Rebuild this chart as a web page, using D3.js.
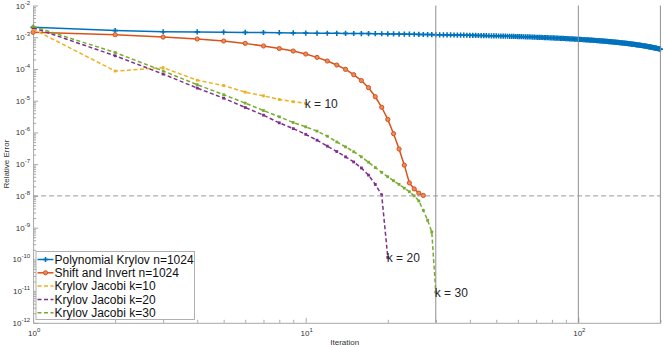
<!DOCTYPE html>
<html><head><meta charset="utf-8">
<script src="https://cdn.jsdelivr.net/npm/d3@7"></script>
<style>body{margin:0;background:#fff}svg{display:block}text{font-family:"Liberation Sans",Arial,sans-serif}</style>
</head><body><svg id="c" width="664" height="347"></svg>
<script>
// ---- data ----
const seriesNames = ["Polynomial Krylov n=1024","Shift and Invert n=1024","Krylov Jacobi k=10","Krylov Jacobi k=20","Krylov Jacobi k=30"];
const seriesColors = ["#0072BD","#D95319","#EDB120","#7E2F8E","#77AC30"];
// Polynomial Krylov relative error, in units of 1e-4, iterations 1..200
const polyKrylovE4 = [20.5,16.2,14.9,14.7,14.4,14.2,14.1,13.9,13.7,13.5,
13.4,13.35,13.3,13.2,13.1,13.05,13.0,12.9,12.85,12.75,
12.7,12.6,12.5,12.45,12.4,12.3,12.2,12.15,12.1,12.0,
11.95,11.9,11.85,11.8,11.75,11.7,11.65,11.6,11.55,11.5,
11.45,11.4,11.35,11.3,11.25,11.2,11.15,11.1,11.05,11.0,
10.95,10.9,10.85,10.8,10.75,10.7,10.65,10.6,10.55,10.5,
10.45,10.4,10.35,10.3,10.25,10.2,10.15,10.1,10.05,10.0,
9.95,9.9,9.85,9.8,9.76,9.71,9.67,9.62,9.57,9.53,
9.48,9.43,9.39,9.34,9.3,9.25,9.2,9.16,9.11,9.06,
9.02,8.97,8.93,8.88,8.83,8.79,8.74,8.69,8.65,8.6,
8.56,8.51,8.47,8.42,8.38,8.34,8.29,8.25,8.2,8.16,
8.12,8.07,8.03,7.98,7.94,7.9,7.85,7.81,7.76,7.72,
7.68,7.63,7.59,7.54,7.5,7.46,7.41,7.37,7.32,7.28,
7.24,7.19,7.15,7.1,7.06,7.02,6.97,6.93,6.88,6.84,
6.8,6.75,6.71,6.66,6.62,6.58,6.53,6.49,6.44,6.4,
6.36,6.31,6.27,6.22,6.18,6.14,6.09,6.05,6.0,5.96,
5.92,5.87,5.83,5.78,5.74,5.7,5.65,5.61,5.56,5.52,
5.48,5.43,5.39,5.34,5.3,5.26,5.21,5.17,5.12,5.08,
5.04,4.99,4.95,4.9,4.86,4.82,4.77,4.73,4.68,4.64,
4.6,4.55,4.51,4.46,4.42,4.38,4.33,4.29,4.24,4.2];
// Shift and Invert, iterations 1..27
const shiftInvert = [1.43e-3,1.2e-3,1.01e-3,8.8e-4,7.6e-4,6.4e-4,5.3e-4,4.4e-4,3.67e-4,2.95e-4,
2.32e-4,1.78e-4,1.33e-4,9.7e-5,6.6e-5,4.3e-5,2.57e-5,1.33e-5,6.2e-6,2.57e-6,
9.1e-7,3.0e-7,9.3e-8,2.57e-8,1.66e-8,1.22e-8,1.03e-8];
// Krylov Jacobi, iterations 1..k
const jacobiK10 = [1.8e-3,8.6e-5,1.1e-4,4.4e-5,3.0e-5,1.86e-5,1.42e-5,1.09e-5,9.3e-6,8.2e-6];
const jacobiK20 = [2.0e-3,2.6e-4,6.9e-5,2.5e-5,1.2e-5,6.1e-6,3.5e-6,2.0e-6,1.32e-6,8.7e-7,
5.7e-7,3.7e-7,2.5e-7,1.7e-7,1.17e-7,7.6e-8,4.5e-8,2.3e-8,1.07e-8,1.15e-10];
const jacobiK30 = [2.2e-3,3.3e-4,8.6e-5,3.2e-5,1.54e-5,8.4e-6,4.9e-6,3.1e-6,2.05e-6,1.5e-6,
1.1e-6,7.6e-7,5.0e-7,3.5e-7,2.46e-7,1.7e-7,1.15e-7,7.8e-8,5.5e-8,4.0e-8,
3.0e-8,2.3e-8,1.75e-8,1.35e-8,1.0e-8,6.9e-9,3.5e-9,1.7e-9,7.3e-10,9.3e-12];
const annotations = ["k = 10","k = 20","k = 30"];
const refVerticals = [30,100,200];
const refHorizontal = 1e-8;
const xTickExps = [0,1,2];
const yTickExps = [-12,-11,-10,-9,-8,-7,-6,-5,-4,-3,-2];
const xLabel = "Iteration", yLabel = "Relative Error";

// ---- chart ----
const svg = d3.select("#c");
const x = d3.scaleLog().domain([1,200]).range([33.1,660.4]);
const y = d3.scaleLog().domain([1e-12,1e-2]).range([322.8,5.5]);
const axisCol = "#a8a8a8", textCol = "#333";

const toPts = arr => arr.map((v,i)=>({i:i+1,v}));
const series = [
  toPts(polyKrylovE4.map(v=>v*1e-4)),
  toPts(shiftInvert), toPts(jacobiK10), toPts(jacobiK20), toPts(jacobiK30)
];

// axes
const yMajor = yTickExps.map(e=>Math.pow(10,e));
const yMinor = [];
yTickExps.slice(0,-1).forEach(e=>{for(let m=2;m<=9;m++) yMinor.push(m*Math.pow(10,e));});
const xMajor = xTickExps.map(e=>Math.pow(10,e));
const xMinor = [2,3,4,5,6,7,8,9,20,30,40,50,60,70,80,90,200];

function styleAxis(g){ g.selectAll("path,line").attr("stroke",axisCol).attr("stroke-width",1); g.selectAll("text").remove(); }
const X0 = x.range()[0], Y0 = y.range()[0];
svg.append("g").attr("transform",`translate(${X0},0)`).call(d3.axisLeft(y).tickValues(yMajor).tickSize(-5).tickSizeOuter(0)).call(styleAxis);
svg.append("g").attr("transform",`translate(${X0},0)`).call(d3.axisLeft(y).tickValues(yMinor).tickSize(-3).tickSizeOuter(0)).call(g=>g.select(".domain").remove()).call(styleAxis);
svg.append("g").attr("transform",`translate(0,${Y0})`).call(d3.axisBottom(x).tickValues(xMajor).tickSize(-5).tickSizeOuter(0)).call(styleAxis);
svg.append("g").attr("transform",`translate(0,${Y0})`).call(d3.axisBottom(x).tickValues(xMinor).tickSize(-3).tickSizeOuter(0)).call(g=>g.select(".domain").remove()).call(styleAxis);

function powLabel(sel, exp){
  sel.append("tspan").attr("font-size",8).text("10");
  sel.append("tspan").attr("font-size",6).attr("dy",-4).text(exp);
}
yTickExps.forEach(e=>{
  const t = svg.append("text").attr("x",X0-3).attr("y",y(Math.pow(10,e))+3).attr("text-anchor","end").attr("fill",textCol);
  powLabel(t, e);
});
xTickExps.forEach(e=>{
  const t = svg.append("text").attr("x",x(Math.pow(10,e))+1).attr("y",Y0+13).attr("text-anchor","middle").attr("fill",textCol);
  powLabel(t, e);
});
svg.append("text").attr("x",(x.range()[0]+x.range()[1])/2-2).attr("y",345).attr("text-anchor","middle").attr("font-size",8).attr("fill",textCol).text(xLabel);
svg.append("text").attr("transform",`translate(9,${(y.range()[0]+y.range()[1])/2}) rotate(-90)`).attr("text-anchor","middle").attr("font-size",8).attr("fill",textCol).text(yLabel);

// series
const line = d3.line().x(d=>x(d.i)).y(d=>y(d.v));
function marker(g, k, col){
  if(k===0){
    g.append("path").attr("d","M-2.6,0H2.6M0,-2.6V2.6").attr("stroke",col).attr("stroke-width",1.6);
  } else if(k===1){
    g.append("circle").attr("r",2.1).attr("fill","#e98a63").attr("stroke",col).attr("stroke-width",1);
  } else {
    g.append("rect").attr("x",-1.4).attr("y",-1.4).attr("width",2.8).attr("height",2.8).attr("fill",col);
  }
}
series.forEach((pts,k)=>{
  const col = seriesColors[k];
  const g = svg.append("g");
  g.append("path").datum(pts).attr("d",line).attr("fill","none").attr("stroke",col)
    .attr("stroke-width",1.5).attr("stroke-dasharray",k>=2?"4,2.5":null);
  g.selectAll("g.m").data(pts).join("g").attr("class","m")
    .attr("transform",d=>`translate(${x(d.i)},${y(d.v)})`).each(function(){marker(d3.select(this),k,col);});
});

// reference lines
refVerticals.forEach(v=>{
  svg.append("line").attr("x1",x(v)).attr("x2",x(v)).attr("y1",y.range()[1]).attr("y2",Y0)
    .attr("stroke","#8f8f8f").attr("stroke-width",1);
});
svg.append("line").attr("x1",X0).attr("x2",x.range()[1]).attr("y1",y(refHorizontal)).attr("y2",y(refHorizontal))
  .attr("stroke","#9a9a9a").attr("stroke-width",1).attr("stroke-dasharray","5,3");

// annotations at the ends of the Jacobi curves
[series[2],series[3],series[4]].forEach((pts,j)=>{
  const d = pts[pts.length-1];
  svg.append("text").attr("x",x(d.i)-1).attr("y",y(d.v)+4.5).attr("font-size",12).attr("fill","#262626").text(annotations[j]);
});

// legend
const lg = svg.append("g");
lg.append("rect").attr("x",36).attr("y",251.5).attr("width",158.5).attr("height",68).attr("fill","#fff").attr("stroke","#b0b0b0").attr("stroke-width",1);
seriesNames.forEach((name,k)=>{
  const yy = 259.5 + k*13.3;
  const col = seriesColors[k];
  lg.append("line").attr("x1",37.5).attr("x2",53.5).attr("y1",yy).attr("y2",yy).attr("stroke",col).attr("stroke-width",1.5).attr("stroke-dasharray",k>=2?"4,2.5":null);
  if(k<2) marker(lg.append("g").attr("transform",`translate(45.5,${yy})`),k,col);
  lg.append("text").attr("x",54.5).attr("y",yy+4.3).attr("font-size",12).attr("fill","#111").text(name);
});
</script></body></html>
